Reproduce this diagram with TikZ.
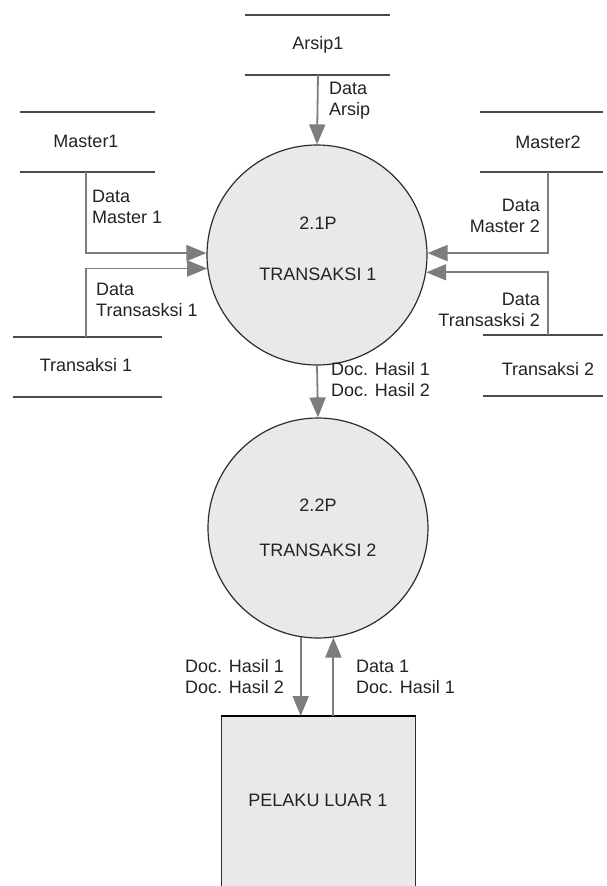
\documentclass[tikz,border=0pt]{standalone}
\usepackage{fontspec}
\setmainfont{Liberation Sans}
\usetikzlibrary{arrows.meta,calc}
\definecolor{flowgray}{RGB}{125,125,125}
\definecolor{storegray}{RGB}{75,75,75}
\definecolor{textgray}{RGB}{35,35,35}
\definecolor{circgray}{RGB}{45,45,45}
\definecolor{procfill}{RGB}{233,233,233}
\begin{document}
\begin{tikzpicture}[x=1pt,y=-1pt,
  txt/.style={font=\fontsize{18}{21}\selectfont, text=textgray, inner sep=0pt},
  lbl/.style={txt, align=left, anchor=west},
  lblr/.style={txt, align=right, anchor=east},
  storeline/.style={draw=storegray, line width=2.4pt},
  flow/.style={draw=flowgray, line width=1.8pt, -{Triangle[length=20pt,width=16pt]}},
  proc/.style={circle, draw=circgray, line width=1.2pt, fill=procfill, minimum size=220pt, inner sep=0pt},
  ext/.style={rectangle, draw=circgray, line width=1pt, fill=procfill, minimum width=194pt, minimum height=172pt, inner sep=0pt}
]
\useasboundingbox (0,0) rectangle (606,886);
\fill[white] (0,0) rectangle (606,886);

% processes
\node[proc] (c1) at (317,255) {};
\node[proc] (c2) at (318,528) {};
\node[txt] (c1id) at (318,223) {2.1P};
\node[txt] (c1nm) at (318,274) {TRANSAKSI 1};
\node[txt] (c2id) at (318,505) {2.2P};
\node[txt] (c2nm) at (318,550) {TRANSAKSI 2};

% external entity
\node[ext, anchor=north] (box) at (318,716) {};
\draw[line width=2.6pt, black] (box.north west) -- (box.north east);
\node[txt] (boxtxt) at (318,800) {PELAKU LUAR 1};

% data stores
\draw[storeline] (245,15) -- (390,15);
\draw[storeline] (245,75) -- (390,75);
\node[txt] (arsip) at (318,45) {Arsip1};

\draw[storeline] (20,112) -- (155,112);
\draw[storeline] (20,172) -- (155,172);
\node[txt] (master1) at (86,141) {Master1};

\draw[storeline] (13,337) -- (162,337);
\draw[storeline] (13,397) -- (162,397);
\node[txt] (trans1) at (86,365) {Transaksi 1};

\draw[storeline] (480,112) -- (603,112);
\draw[storeline] (480,172) -- (603,172);
\node[txt] (master2) at (548,142) {Master2};

\draw[storeline] (483,335) -- (603,335);
\draw[storeline] (483,396) -- (603,396);
\node[txt] (trans2) at (548,369) {Transaksi 2};

% connector ends on stores
\coordinate (arsipo) at (318,75);
\coordinate (m1o) at (86,172);
\coordinate (t1o) at (86,337);
\coordinate (m2o) at (548,172);
\coordinate (t2o) at (548,335);

% flows
\draw[flow] (arsipo) -- (c1.north);
\draw[flow] (m1o) |- (c1.179);
\draw[flow] (t1o) |- (c1.187);
\draw[flow] (m2o) |- (c1.1);
\draw[flow] (t2o) |- (c1.351);
\draw[flow] (c1.south) -- (c2.north);
\draw[flow] (c2.261.6) -- (c2.261.6 |- box.north);
\draw[flow] (box.north -| c2.278.4) -- (c2.278.4);

% labels
\node[lbl] (l1) at (329,101) {Data\\Arsip};
\node[lbl] (l2) at (92,207) {Data\\Master 1};
\node[lbl] (l3) at (96,300) {Data\\Transasksi 1};
\node[lblr] (l4) at (540,216) {Data\\Master 2};
\node[lblr] (l5) at (540,310) {Data\\Transasksi 2};
\node[lbl] (l6) at (331,380) {Doc. Hasil 1\\Doc. Hasil 2};
\node[lblr] (l7) at (284,677) {Doc. Hasil 1\\Doc. Hasil 2};
\node[lbl] (l8) at (356,677) {Data 1\\Doc. Hasil 1};
\end{tikzpicture}
\end{document}
